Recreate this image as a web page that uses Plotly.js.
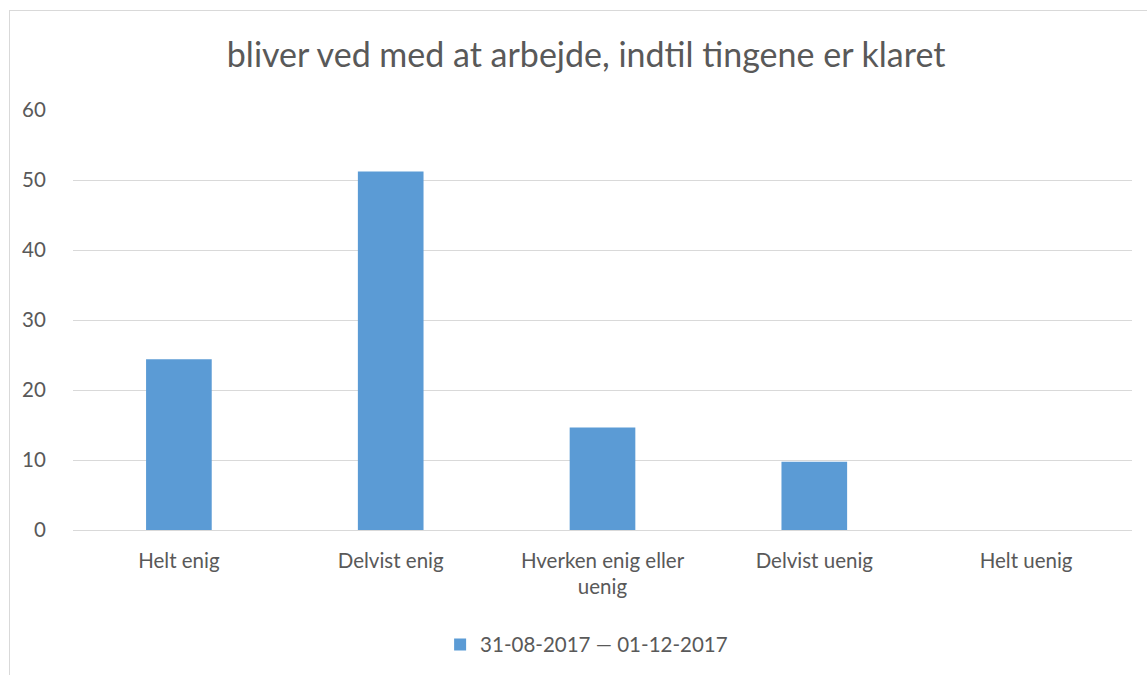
<!DOCTYPE html>
<html>
<head>
<meta charset="utf-8">
<script src="https://cdn.plot.ly/plotly-3.0.1.min.js"></script>
<style>
html,body{margin:0;padding:0;background:#fff;overflow:hidden;}
#frame{position:absolute;left:9px;top:10px;width:1300px;height:800px;border:1px solid #d9d9d9;box-sizing:border-box;}
#chart{position:absolute;left:0;top:0;width:1147px;height:675px;}
</style>
</head>
<body>
<div id="frame"></div>
<div id="chart"></div>
<script>
const categories = ["Helt enig", "Delvist enig", "Hverken enig eller<br>uenig", "Delvist uenig", "Helt uenig"];
const values = [24.39, 51.22, 14.63, 9.76, 0];
const seriesName = "31-08-2017 — 01-12-2017";
const chartTitle = "bliver ved med at arbejde, indtil tingene er klaret";
const yTicks = [0, 10, 20, 30, 40, 50, 60];

const font = "Lato, 'Open Sans', sans-serif";
Plotly.newPlot('chart', [{
  type: 'bar',
  x: categories,
  y: values,
  name: seriesName,
  marker: {color: '#5b9bd5'},
  showlegend: true
}], {
  width: 1147, height: 675,
  paper_bgcolor: 'rgba(0,0,0,0)',
  plot_bgcolor: 'rgba(0,0,0,0)',
  margin: {l: 73, r: 15, t: 110, b: 144},
  bargap: 0.69,
  title: {text: chartTitle, font: {family: font, size: 34, color: '#595959'}, xref: 'container', x: 0.511, xanchor: 'center', yref: 'container', y: 1 - 55/675, yanchor: 'middle'},
  xaxis: {tickfont: {family: font, size: 20.5, color: '#595959'}, showline: false, ticks: 'outside', ticklen: 12, tickcolor: 'rgba(0,0,0,0)', showgrid: false, fixedrange: true},
  yaxis: {range: [0, 60], tickvals: yTicks, tickfont: {family: font, size: 20.5, color: '#595959'}, gridcolor: '#d9d9d9', gridwidth: 1, zeroline: true, zerolinecolor: '#d9d9d9', zerolinewidth: 1, ticks: 'outside', ticklen: 22, tickcolor: 'rgba(0,0,0,0)', showline: false, fixedrange: true},
  legend: {orientation: 'h', x: 0.485, xanchor: 'center', y: -0.27, yanchor: 'middle', itemwidth: 30, font: {family: font, size: 20.5, color: '#595959'}},
  showlegend: true
}, {displayModeBar: false, staticPlot: true});
</script>
</body>
</html>
